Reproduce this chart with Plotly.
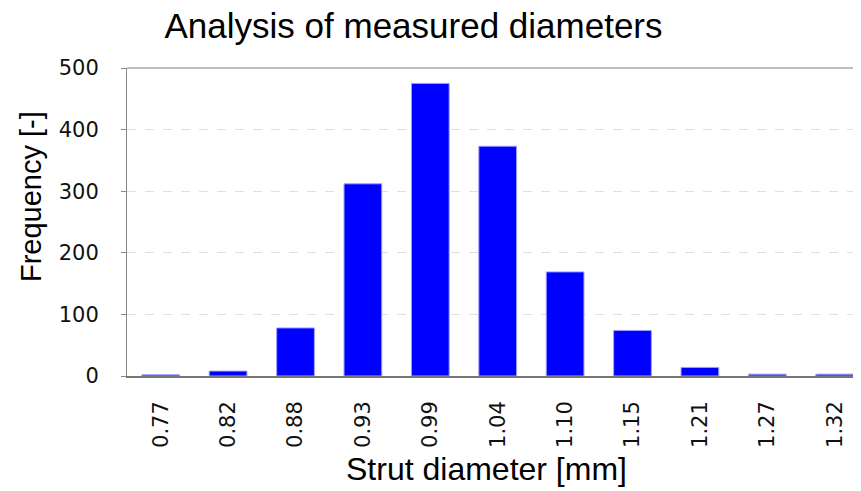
import plotly.graph_objects as go

# strut diameter bins (mm) and counts
diameters = ['0.77', '0.82', '0.88', '0.93', '0.99', '1.04', '1.10', '1.15', '1.21', '1.27', '1.32']
counts = [2, 8, 78, 312, 475, 373, 169, 74, 14, 3, 3]
y_ticks = [0, 100, 200, 300, 400, 500]

fig = go.Figure(go.Bar(
    x=diameters, y=counts,
    marker=dict(color='#0000ff', line=dict(color='#a0a0ff', width=1)),
))

title_font = dict(family='Liberation Sans, Arial', color='black')

fig.update_layout(
    width=861, height=491,
    margin=dict(l=119, r=8, t=60, b=123, autoexpand=False),
    plot_bgcolor='white', paper_bgcolor='white',
    bargap=0.44,
    showlegend=False,
    title=dict(text='Analysis of measured diameters',
               font=dict(size=35, **title_font),
               x=0.471, xanchor='center', xref='container',
               y=1 - 18 / 491, yanchor='middle', yref='container'),
    shapes=[dict(type='line', xref='paper', yref='paper', x0=0, x1=1, y0=1, y1=1,
                 line=dict(color='#aaaaaa', width=1.5))],
    annotations=[
        dict(text='Frequency [-]', textangle=-90, showarrow=False,
             xref='paper', yref='paper', x=0, y=0.581, xanchor='center', yanchor='middle',
             xshift=-96, font=dict(size=29, **title_font)),
        dict(text='Strut diameter [mm]', showarrow=False,
             xref='paper', yref='paper', x=0.49, y=0, xanchor='center', yanchor='middle',
             yshift=-93, font=dict(size=32, **title_font)),
    ],
)

fig.update_xaxes(
    type='category',
    range=[-0.5, 10.39],
    tickangle=-90,
    tickfont=dict(family='DejaVu Sans', size=21, color='#111111'),
    ticks='', ticklabelstandoff=15,
    showline=True, linecolor='#777777', linewidth=1.5,
    showgrid=False,
)

fig.update_yaxes(
    range=[0, 500],
    tickvals=y_ticks,
    tickfont=dict(family='DejaVu Sans', size=21, color='#111111'),
    ticks='outside', ticklen=5, tickcolor='#888888', ticklabelstandoff=18,
    showline=True, linecolor='#888888', linewidth=1,
    showgrid=True, gridcolor='#e0e0e0', griddash='dash', gridwidth=1,
    zeroline=False,
)

fig.write_html('out.html')
